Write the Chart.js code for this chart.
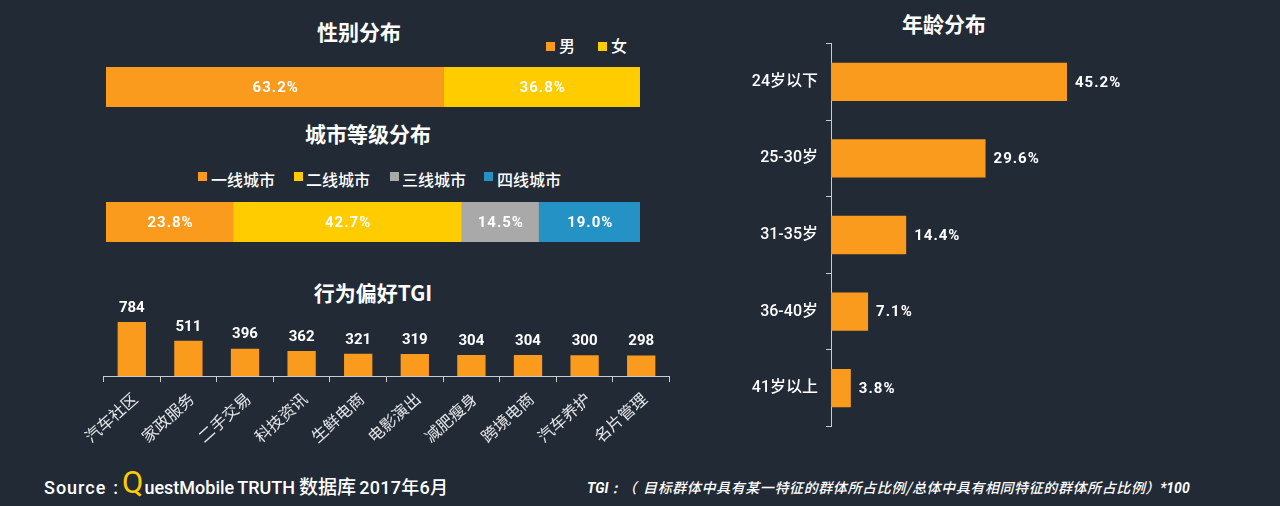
<!DOCTYPE html>
<html lang="zh">
<head>
<meta charset="utf-8">
<title>用户画像</title>
<script src="https://cdn.jsdelivr.net/npm/chart.js@4"></script>
<style>
    html, body { margin: 0; padding: 0; background: #222a36; }
    body { position: relative; width: 1280px; height: 506px; overflow: hidden; color: #fff; font-family: 'Noto Sans CJK SC', Roboto, sans-serif; }
    .box { position: absolute; }
    .title { position: absolute; transform: translate(-50%, -50%); font-size: 21px; font-weight: 700; white-space: nowrap; line-height: 1; }
    .legend-item { position: absolute; font-size: 16px; font-weight: 500; line-height: 1; white-space: nowrap; transform: translateY(-50%); }
    .swatch { position: absolute; width: 9px; height: 9px; }
    #source { position: absolute; left: 44px; top: 482px; transform: translateY(-50%); font-family: Roboto, 'Noto Sans CJK SC', sans-serif; font-size: 18px; font-weight: 500; white-space: nowrap; line-height: 1; word-spacing: -1px; }
    #source .lead { letter-spacing: 1px; }
    #source .colon { margin: 0 4px 0 7px; }
    #source .q { color: #ffcc00; font-size: 31px; font-weight: 400; margin-right: 1px; vertical-align: 1px; }
    #source .db { font-size: 19px; margin: 0 3px 0 4px; }
    #source .date { letter-spacing: 0.3px; }
    #note { position: absolute; left: 587px; top: 487px; transform: translateY(-50%); font-size: 14px; font-weight: 500; font-style: italic; white-space: nowrap; line-height: 1; letter-spacing: 0.6px; }
    #note b { font-family: Roboto, sans-serif; font-weight: 700; letter-spacing: 0; }
    #note .open { margin-right: 6px; }
</style>
</head>
<body>
<div class="title" style="left:359px;top:31px">性别分布</div>
<div class="title" style="left:368px;top:133px">城市等级分布</div>
<div class="title" style="left:373px;top:292px">行为偏好TGI</div>
<div class="title" style="left:944px;top:23px">年龄分布</div>

<div id="legends"></div>

<div class="box" style="left:106px;top:67px;width:534px;height:40px"><canvas id="genderChart"></canvas></div>
<div class="box" style="left:106px;top:202px;width:534px;height:40px"><canvas id="cityChart"></canvas></div>
<div class="box" style="left:0;top:286px;width:680px;height:170px"><canvas id="tgiChart"></canvas></div>
<div class="box" style="left:740px;top:26px;width:540px;height:418px"><canvas id="ageChart"></canvas></div>

<div id="source"><span class="lead">Source</span><span class="colon">:</span><span class="q">Q</span>uestMobile TRUTH<span class="db">数据库</span><span class="date">2017年6月</span></div>
<div id="note"><b>TGI：</b><span class="open">（</span>目标群体中具有某一特征的群体所占比例/总体中具有相同特征的群体所占比例）<b>*100</b></div>

<script>
// Chart data
const genderNames = ['男', '女'];
const genderValues = [63.2, 36.8];

const cityNames = ['一线城市', '二线城市', '三线城市', '四线城市'];
const cityValues = [23.8, 42.7, 14.5, 19.0];

const tgiCategories = ['汽车社区', '家政服务', '二手交易', '科技资讯', '生鲜电商', '电影演出', '减肥瘦身', '跨境电商', '汽车养护', '名片管理'];
const tgiValues = [784, 511, 396, 362, 321, 319, 304, 304, 300, 298];

const ageCategories = ['24岁以下', '25-30岁', '31-35岁', '36-40岁', '41岁以上'];
const ageValues = [45.2, 29.6, 14.4, 7.1, 3.8];

const ORANGE = '#fb9b1e';
const palette = [ORANGE, '#ffcc00', '#a9a9a9', '#2492c4'];
const AXIS_COLOR = '#c8ccd0';
const LABEL_FONT = "700 15px Roboto, 'Noto Sans CJK SC', sans-serif";
const CJK_FONT = "'Noto Sans CJK SC', sans-serif";

Chart.defaults.animation = false;
Chart.defaults.responsive = true;
Chart.defaults.maintainAspectRatio = false;
Chart.defaults.plugins.legend.display = false;
Chart.defaults.plugins.tooltip.enabled = false;

// Draws the value text on each bar, placement comes from the chart options
const barLabels = {
    id: 'barLabels',
    afterDatasetsDraw(chart, args, opts) {
        const ctx = chart.ctx;
        ctx.save();
        ctx.font = LABEL_FONT;
        ctx.fillStyle = '#fff';
        ctx.textBaseline = 'middle';
        ctx.letterSpacing = opts.spacing;
        chart.data.datasets.forEach((ds, i) => {
            chart.getDatasetMeta(i).data.forEach((bar, j) => {
                const text = opts.format(ds.data[j]);
                if (opts.place === 'center') {
                    const c = bar.getCenterPoint();
                    ctx.textAlign = 'center';
                    ctx.fillText(text, c.x + 1, c.y + 1);
                } else if (opts.place === 'top') {
                    ctx.textAlign = 'center';
                    ctx.fillText(text, bar.x, bar.y - 14);
                } else {
                    ctx.textAlign = 'left';
                    ctx.fillText(text, bar.x + 8, bar.y + 1);
                }
            });
        });
        ctx.restore();
    }
};

const percent = v => v.toFixed(1) + '%';

function stackedBar(id, names, values) {
    new Chart(document.getElementById(id), {
        type: 'bar',
        plugins: [barLabels],
        data: {
            labels: [''],
            datasets: names.map((name, i) => ({
                label: name,
                data: [values[i]],
                backgroundColor: palette[i],
                barPercentage: 1,
                categoryPercentage: 1
            }))
        },
        options: {
            indexAxis: 'y',
            layout: { padding: 0 },
            scales: {
                x: { stacked: true, display: false, min: 0, max: 100 },
                y: { stacked: true, display: false }
            },
            plugins: { barLabels: { place: 'center', spacing: '1px', format: percent } }
        }
    });
}

stackedBar('genderChart', genderNames, genderValues);
stackedBar('cityChart', cityNames, cityValues);

new Chart(document.getElementById('tgiChart'), {
    type: 'bar',
    plugins: [barLabels],
    data: {
        labels: tgiCategories,
        datasets: [{ data: tgiValues, backgroundColor: ORANGE, barPercentage: 1, categoryPercentage: 0.5 }]
    },
    options: {
        layout: { padding: { left: 103.5, right: 10.5, top: 10 } },
        scales: {
            x: {
                afterFit: scale => { scale.height = 80; },
                border: { color: AXIS_COLOR, width: 1 },
                grid: { drawOnChartArea: false, color: AXIS_COLOR, tickLength: 6 },
                ticks: { color: '#e4e6e8', font: { family: CJK_FONT, size: 16 }, minRotation: 42, maxRotation: 42, padding: 7, labelOffset: 3, autoSkip: false }
            },
            y: { display: false, min: 0, max: 1160 }
        },
        plugins: { barLabels: { place: 'top', spacing: '0px', format: v => String(v) } }
    }
});

new Chart(document.getElementById('ageChart'), {
    type: 'bar',
    plugins: [barLabels],
    data: {
        labels: ageCategories,
        datasets: [{ data: ageValues, backgroundColor: ORANGE, barPercentage: 1, categoryPercentage: 0.5 }]
    },
    options: {
        indexAxis: 'y',
        layout: { padding: 0 },
        scales: {
            x: { display: false, min: 0, max: 86 },
            y: {
                afterFit: scale => { scale.width = 91; },
                border: { color: AXIS_COLOR, width: 1 },
                grid: { drawOnChartArea: false, color: AXIS_COLOR, tickLength: 5 },
                ticks: { color: '#fff', font: { family: "Roboto, 'Noto Sans CJK SC', sans-serif", size: 16, weight: '500' }, padding: 8 }
            }
        },
        plugins: { barLabels: { place: 'right', spacing: '1px', format: percent } }
    }
});

// Legends above the stacked bars, one swatch and one name per series
const legendRows = [
    { names: genderNames, top: 45, swatchTop: 42, swatchX: [546, 598], textX: [559, 611] },
    { names: cityNames, top: 179, swatchTop: 172, swatchX: [198, 294, 390, 484], textX: [211, 306, 402, 497] }
];
const legends = document.getElementById('legends');
legendRows.forEach(row => {
    row.names.forEach((name, i) => {
        const swatch = document.createElement('div');
        swatch.className = 'swatch';
        swatch.style.cssText = `left:${row.swatchX[i]}px;top:${row.swatchTop}px;background:${palette[i]}`;
        legends.appendChild(swatch);
        const item = document.createElement('div');
        item.className = 'legend-item';
        item.style.cssText = `left:${row.textX[i]}px;top:${row.top}px`;
        item.textContent = name;
        legends.appendChild(item);
    });
});
</script>
</body>
</html>
